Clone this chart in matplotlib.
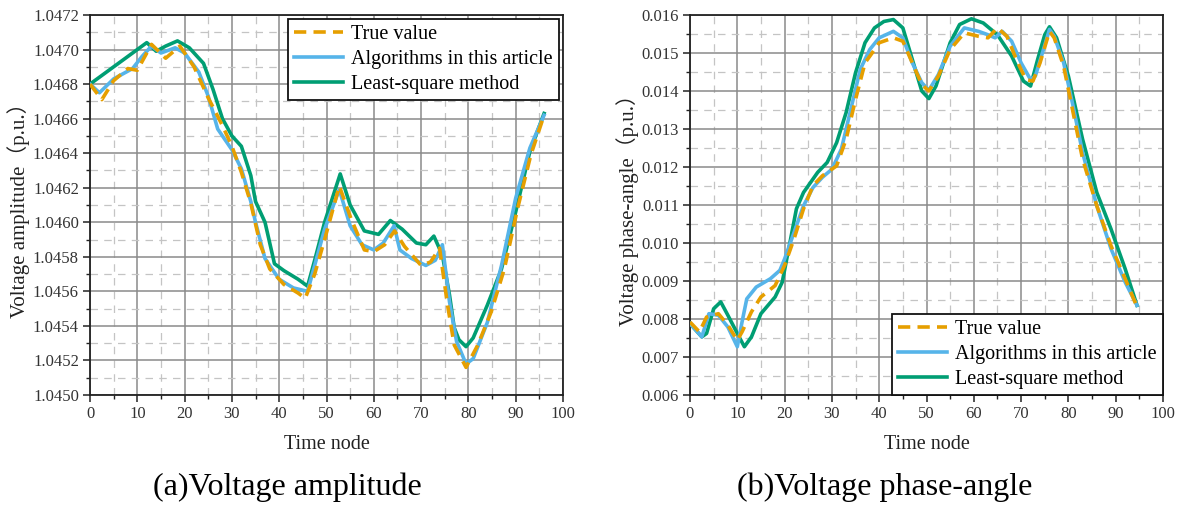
import matplotlib
matplotlib.use("Agg")
import matplotlib.pyplot as plt
from matplotlib.ticker import MultipleLocator, FormatStrFormatter

# ---------------- data: (a) voltage amplitude ----------------
amp_true_t = [0, 2.5, 5, 8, 10, 13, 16, 19, 22, 25, 28, 30, 32, 34, 36, 38, 41, 44, 45.5,
              47.5, 49.6, 52.7, 55.2, 58, 60, 62.3, 64.4, 66.5, 70, 72, 73.9, 75.6, 77, 79.5,
              82, 84.8, 87.6, 90.4, 93.2, 96]
amp_true_v = [1.04680, 1.04671, 1.04682, 1.04689, 1.04688, 1.04703, 1.04695, 1.04702, 1.04690,
              1.04672, 1.04656, 1.04644, 1.04629, 1.04611, 1.04587, 1.04573, 1.04564, 1.04559,
              1.04556, 1.04570, 1.04590, 1.04621, 1.04602, 1.04584, 1.04583, 1.04587, 1.04595,
              1.04586, 1.04575, 1.04577, 1.04585, 1.04552, 1.04529, 1.04516, 1.04529, 1.04548,
              1.04573, 1.04608, 1.04639, 1.04662]

amp_alg_t = [0, 2, 5, 9, 11, 13, 15, 18, 20, 23, 25, 27, 30, 32, 34, 35, 37, 40, 43, 46,
             47.5, 49.6, 52.7, 55, 57.5, 60, 62, 64.3, 65.5, 68, 71, 73, 74.5, 76, 77.5, 79.5,
             81, 84, 87, 90, 93, 96]
amp_alg_v = [1.04680, 1.04675, 1.04683, 1.04689, 1.04696, 1.04702, 1.04698, 1.04701, 1.04698,
             1.04687, 1.04673, 1.04654, 1.04642, 1.04631, 1.04612, 1.04600, 1.04579, 1.04567,
             1.04562, 1.04560, 1.04575, 1.04596, 1.04619, 1.04598, 1.04587, 1.04584, 1.04588,
             1.04598, 1.04584, 1.04579, 1.04575, 1.04578, 1.04587, 1.04554, 1.04531, 1.04518,
             1.04521, 1.04542, 1.04575, 1.04614, 1.04643, 1.04662]

amp_ls_t = [0, 4, 8, 12, 14, 16, 18.5, 21, 24, 26, 28, 30, 32, 34, 35, 37, 39, 41, 44, 46,
            47.5, 49.6, 52.9, 55, 58, 61, 63.5, 66, 69, 71, 72.7, 74.5, 76, 77, 78, 79.5, 81,
            84, 87, 90, 93, 96]
amp_ls_v = [1.04680, 1.04688, 1.04696, 1.04704, 1.04699, 1.04702, 1.04705, 1.04701, 1.04692,
            1.04677, 1.04660, 1.04650, 1.04644, 1.04627, 1.04612, 1.04600, 1.04576, 1.04572,
            1.04567, 1.04563, 1.04578, 1.04600, 1.04628, 1.04610, 1.04595, 1.04593, 1.04601,
            1.04596, 1.04588, 1.04587, 1.04592, 1.04581, 1.04558, 1.04539, 1.04532, 1.04528,
            1.04533, 1.04552, 1.04573, 1.04606, 1.04641, 1.04663]

# ---------------- data: (b) voltage phase-angle ----------------
ang_true_t = [0, 2, 3.5, 6, 8, 10, 11, 13, 15, 18, 20, 22, 24, 26, 28, 31, 33, 35, 37, 38.5,
              40, 43, 45, 47, 49, 50.5, 52.5, 55, 58, 61, 63, 65, 67, 69, 71, 72.5, 74, 76,
              77, 79, 81, 83, 86, 89, 92, 94.5]
ang_true_v = [0.00792, 0.00766, 0.00805, 0.00814, 0.00784, 0.00744, 0.00766, 0.00819, 0.00858,
              0.00888, 0.00941, 0.01011, 0.01090, 0.01151, 0.01177, 0.01203, 0.01273, 0.01378,
              0.01474, 0.01500, 0.01527, 0.01540, 0.01531, 0.01474, 0.01417, 0.01400, 0.01439,
              0.01509, 0.01553, 0.01544, 0.01540, 0.01566, 0.01544, 0.01483, 0.01430, 0.01426,
              0.01474, 0.01557, 0.01540, 0.01465, 0.01343, 0.01221, 0.01098, 0.00993, 0.00906,
              0.00832]

ang_alg_t = [0, 2.5, 4, 6, 8, 10, 11, 12, 14, 17, 19, 20, 22, 24, 26, 28, 30, 32, 34, 36, 38,
             40, 43, 45, 47, 49, 50.5, 52.5, 55, 58, 61, 63, 64.5, 66, 68, 70, 72, 73, 74.5,
             76, 77, 79, 81, 83, 86, 89, 92, 94.5]
ang_alg_v = [0.00788, 0.00753, 0.00814, 0.00810, 0.00779, 0.00727, 0.00792, 0.00853, 0.00884,
             0.00906, 0.00928, 0.00958, 0.01028, 0.01098, 0.01146, 0.01173, 0.01194, 0.01247,
             0.01352, 0.01457, 0.01509, 0.01540, 0.01557, 0.01540, 0.01474, 0.01422, 0.01402,
             0.01443, 0.01518, 0.01566, 0.01557, 0.01548, 0.01540, 0.01557, 0.01531, 0.01474,
             0.01430, 0.01439, 0.01500, 0.01562, 0.01544, 0.01474, 0.01360, 0.01238, 0.01098,
             0.00985, 0.00897, 0.00836]

ang_ls_t = [0, 2.5, 3.5, 5, 6.5, 8, 10, 11.5, 13, 15, 18, 19.5, 21, 22.5, 24, 27, 29, 31, 33,
            35, 37, 39, 41, 43, 45, 47, 49, 50.5, 52, 55, 57, 59.5, 62, 65, 68, 70.5, 72,
            73.5, 75, 76, 77.5, 80, 83, 86, 89, 92, 94.5]
ang_ls_v = [0.00788, 0.00753, 0.00762, 0.00827, 0.00845, 0.00810, 0.00762, 0.00727, 0.00753,
            0.00814, 0.00858, 0.00897, 0.00993, 0.01090, 0.01133, 0.01186, 0.01212, 0.01264,
            0.01343, 0.01448, 0.01527, 0.01566, 0.01583, 0.01588, 0.01566, 0.01483, 0.01400,
            0.01380, 0.01413, 0.01527, 0.01575, 0.01590, 0.01579, 0.01548, 0.01492, 0.01426,
            0.01413, 0.01483, 0.01548, 0.01569, 0.01540, 0.01439, 0.01273, 0.01133, 0.01037,
            0.00932, 0.00836]

labels = ["True value", "Algorithms in this article", "Least-square method"]
colors = ["#E69F00", "#56B4E9", "#009E73"]
x_label = "Time node"
y_label_a = "Voltage amplitude（p.u.）"
y_label_b = "Voltage phase-angle（p.u.）"
caption_a = "(a)Voltage amplitude"
caption_b = "(b)Voltage phase-angle"

serif = ["Liberation Serif", "Noto Sans CJK SC"]
plt.rcParams["font.family"] = serif

fig = plt.figure(figsize=(11.82, 5.11), dpi=100)
W, H = 1182, 511
ax_a = fig.add_axes([90 / W, (H - 395) / H, 473 / W, 380 / H])
ax_b = fig.add_axes([690 / W, (H - 395) / H, 473 / W, 380 / H])

LW = 2.6


def style(ax, ymin, ymax, ymaj, ymin_step, yfmt, ylabel):
    ax.set_xlim(0, 100)
    ax.set_ylim(ymin, ymax)
    ax.xaxis.set_major_locator(MultipleLocator(10))
    ax.xaxis.set_minor_locator(MultipleLocator(5))
    ax.yaxis.set_major_locator(MultipleLocator(ymaj))
    ax.yaxis.set_minor_locator(MultipleLocator(ymin_step))
    ax.yaxis.set_major_formatter(FormatStrFormatter(yfmt))
    ax.grid(which="major", color="#8a8a8a", linewidth=1.1, linestyle="-")
    ax.grid(which="minor", color="#c4c4c4", linewidth=0.9, linestyle=(0, (6, 5)))
    ax.set_axisbelow(True)
    for sp in ax.spines.values():
        sp.set_linewidth(1.3)
        sp.set_color("#222222")
    ax.tick_params(which="major", direction="out", length=5, width=1.1,
                   labelsize=12, colors="#222222", pad=3)
    ax.tick_params(which="minor", direction="out", length=3, width=1.0, colors="#222222")
    for lab in ax.get_xticklabels() + ax.get_yticklabels():
        lab.set_color("#333333")
    ax.set_xlabel(x_label, fontsize=14.5, labelpad=9, color="#222222")
    ax.set_ylabel(ylabel, fontsize=15, labelpad=2, color="#222222")


def draw(ax, t1, v1, t2, v2, t3, v3):
    l1, = ax.plot(t1, v1, color=colors[0], lw=LW, linestyle=(0, (3.4, 2.0)),
                  label=labels[0], zorder=5, solid_joinstyle="round")
    l2, = ax.plot(t2, v2, color=colors[1], lw=LW, label=labels[1], zorder=4,
                  solid_joinstyle="round")
    l3, = ax.plot(t3, v3, color=colors[2], lw=LW, label=labels[2], zorder=3,
                  solid_joinstyle="round")
    return [l1, l2, l3]


style(ax_a, 1.0450, 1.0472, 0.0002, 0.0001, "%.4f", y_label_a)
style(ax_b, 0.006, 0.016, 0.001, 0.0005, "%.3f", y_label_b)

draw(ax_a, amp_true_t, amp_true_v, amp_alg_t, amp_alg_v, amp_ls_t, amp_ls_v)
draw(ax_b, ang_true_t, ang_true_v, ang_alg_t, ang_alg_v, ang_ls_t, ang_ls_v)

for ax, loc, pad in [(ax_a, "upper right", 0.2), (ax_b, "lower right", 0.0)]:
    leg = ax.legend(loc=loc, fontsize=14.5, frameon=True, fancybox=False,
                    edgecolor="#111111", framealpha=1, borderaxespad=pad,
                    handlelength=2.45, handletextpad=0.4, labelspacing=0.28,
                    borderpad=0.3)
    leg.get_frame().set_linewidth(1.3)
    leg.set_zorder(10)

fig.text(287 / W, 1 - 487 / H, caption_a, ha="center", va="center", fontsize=23)
fig.text(885 / W, 1 - 487 / H, caption_b, ha="center", va="center", fontsize=23)

fig.savefig("out.png", dpi=100)
